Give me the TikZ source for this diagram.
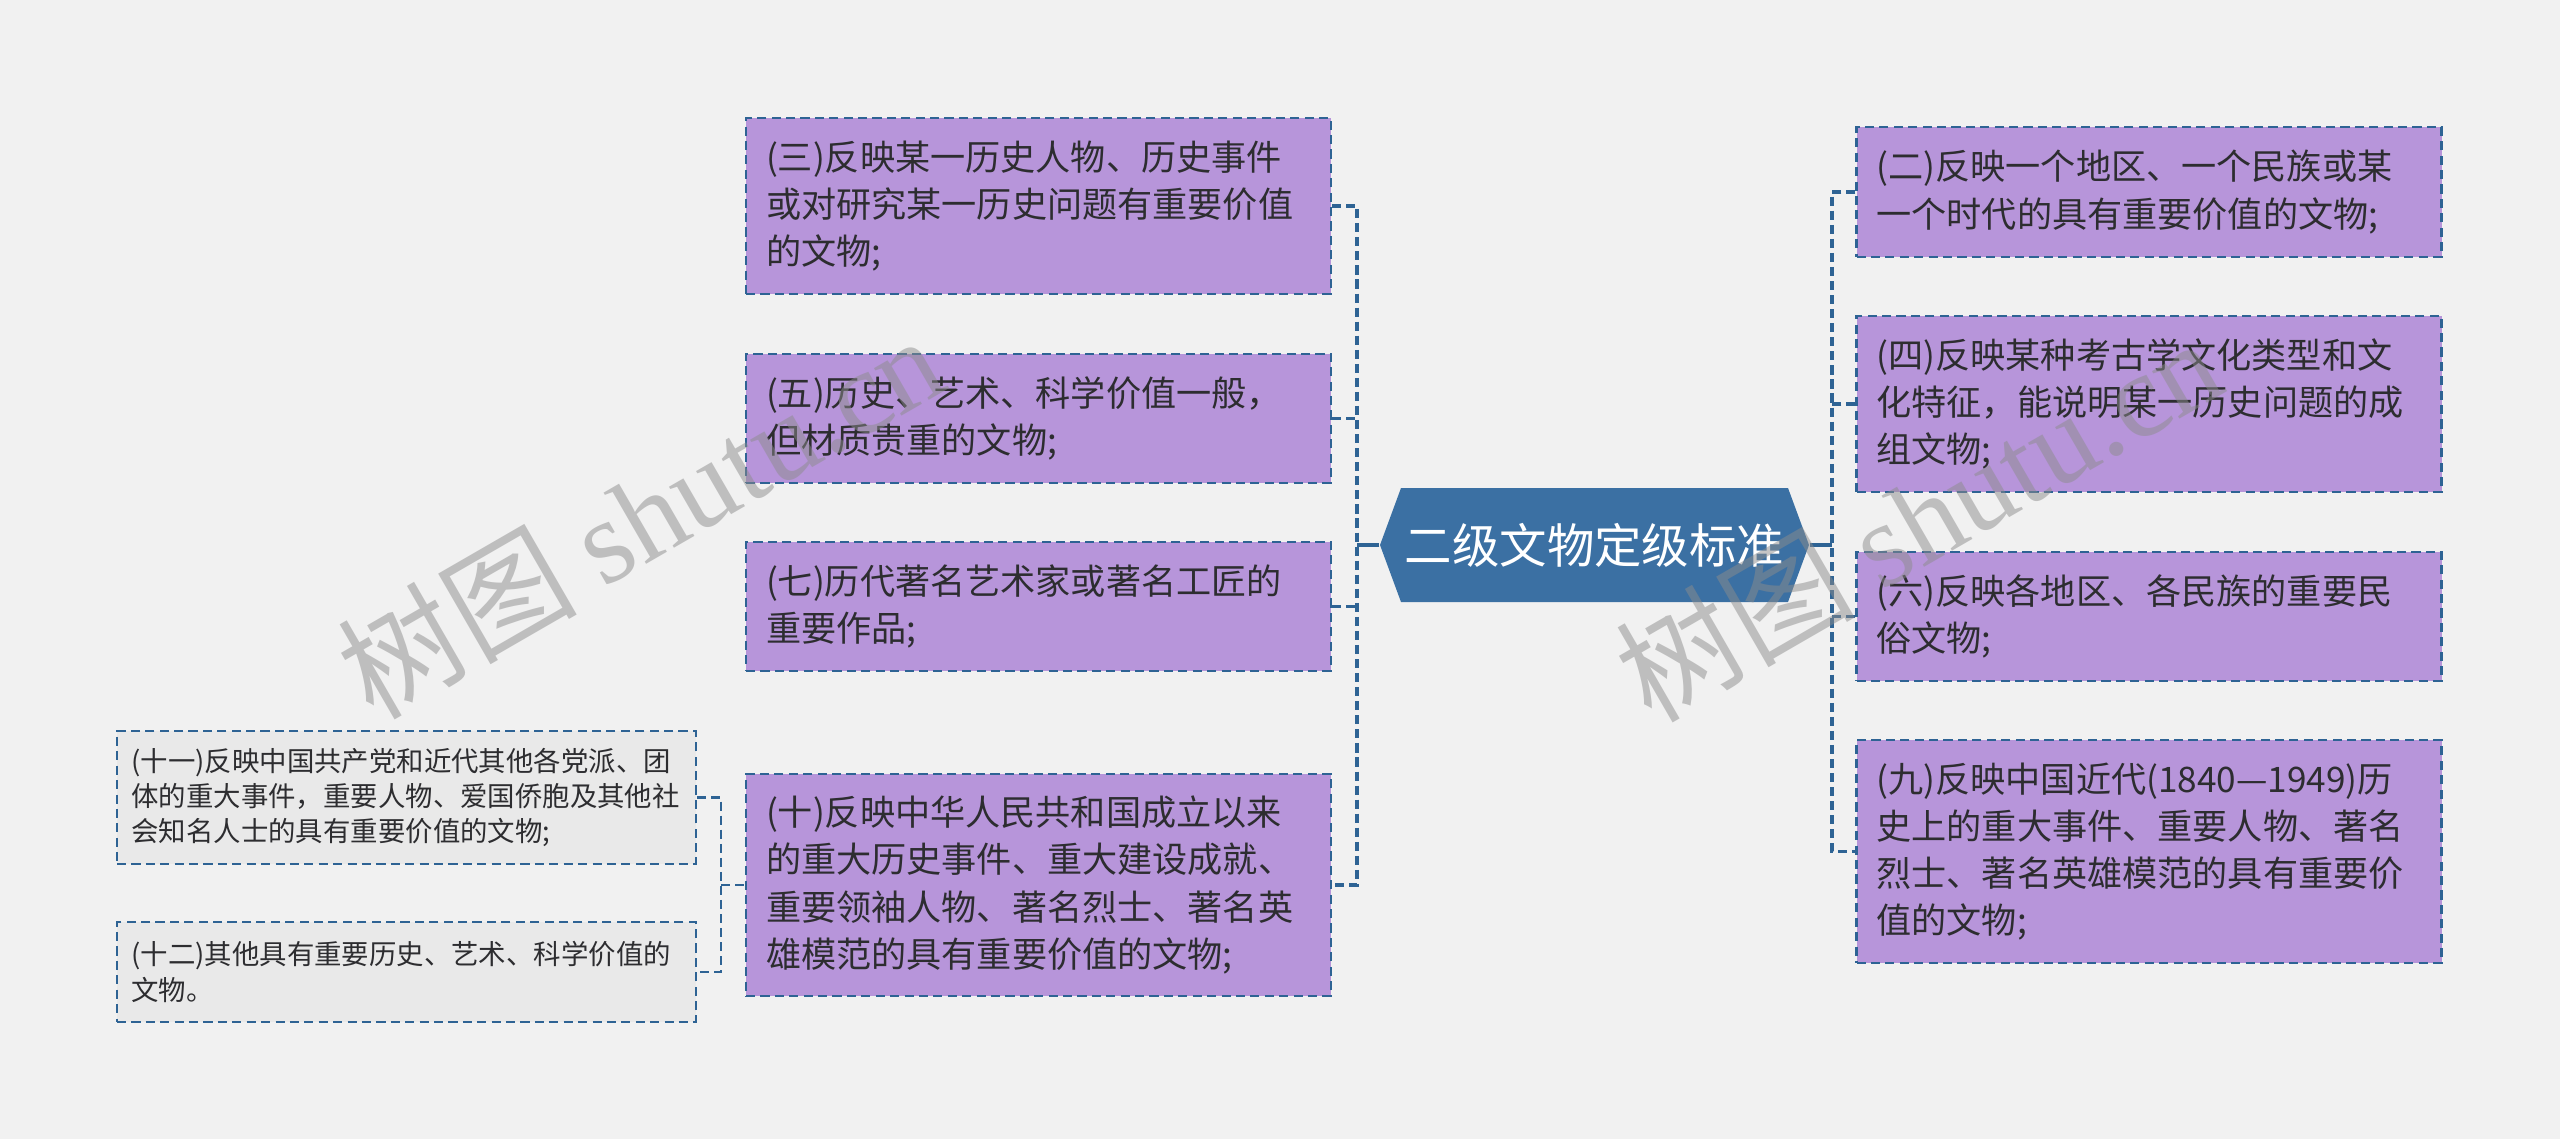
\documentclass[tikz,border=0pt]{standalone}
\usepackage{fontspec}
\newfontfamily\cjk{Noto Sans CJK SC}
\newfontfamily\marklatin{Liberation Serif}

\definecolor{wwbg}{RGB}{241,241,241}
\definecolor{wwblue}{RGB}{59,112,163}
\definecolor{wwline}{RGB}{46,99,148}
\definecolor{wwpurple}{RGB}{183,149,218}
\definecolor{wwgray}{RGB}{233,233,233}
\definecolor{wwtext}{RGB}{45,45,48}
\definecolor{wwmarkc}{RGB}{140,140,140}

\tikzset{
  wwroot/.style={minimum width=42.9mm, minimum height=11.4mm, inner sep=0pt, text=white,
    font=\cjk\fontsize{13.5}{16}\selectfont},
  wwbox/.style={draw=wwline, line width=.6pt, dash pattern=on 2.6pt off 1.5pt, fill=wwpurple,
    text=wwtext, minimum width=58.5mm, inner sep=0pt, text width=54.5mm, align=left,
    font=\cjk\fontsize{10}{13.4}\selectfont},
  wwsub/.style={draw=wwline, line width=.55pt, dash pattern=on 2.6pt off 1.5pt, fill=wwgray,
    text=wwtext, minimum width=57.9mm, inner sep=0pt, text width=55mm, align=left,
    font=\cjk\fontsize{7.8}{10}\selectfont},
  wwtie/.style={draw=wwline, line width=1pt},
  wwtrunk/.style={draw=wwline, line width=1pt, dash pattern=on 2.6pt off 1.4pt},
  wwtwig/.style={draw=wwline, line width=.6pt, dash pattern=on 2.6pt off 1.4pt},
  wwmark/.style={text=wwmarkc, text opacity=.5, rotate=30, inner sep=0pt,
    font=\cjk\fontsize{34}{34}\selectfont}
}

\begin{document}
\begin{tikzpicture}[x=0.1mm, y=-0.1mm]
\fill[wwbg] (0,0) rectangle (2560,1139);

% left column
\node[wwbox, minimum height=17.6mm] (n3) at (1038.5,206) {(三)反映某一历史人物、历史事件\\或对研究某一历史问题有重要价值\\的文物;};
\node[wwbox, minimum height=12.9mm] (n5) at (1038.5,418.5) {(五)历史、艺术、科学价值一般，\\但材质贵重的文物;};
\node[wwbox, minimum height=12.9mm] (n7) at (1038.5,606.5) {(七)历代著名艺术家或著名工匠的\\重要作品;};
\node[wwbox, minimum height=22.2mm] (n10) at (1038.5,885) {(十)反映中华人民共和国成立以来\\的重大历史事件、重大建设成就、\\重要领袖人物、著名烈士、著名英\\雄模范的具有重要价值的文物;};

% right column
\node[wwbox, minimum height=13.0mm] (n2) at (2149,192) {(二)反映一个地区、一个民族或某\\一个时代的具有重要价值的文物;};
\node[wwbox, minimum height=17.6mm] (n4) at (2149,404) {(四)反映某种考古学文化类型和文\\化特征，能说明某一历史问题的成\\组文物;};
\node[wwbox, minimum height=12.9mm] (n6) at (2149,616.5) {(六)反映各地区、各民族的重要民\\俗文物;};
\node[wwbox, minimum height=22.3mm] (n9) at (2149,851.5) {(九)反映中国近代(1840—1949)历\\史上的重大事件、重要人物、著名\\烈士、著名英雄模范的具有重要价\\值的文物;};

% under (十)
\node[wwsub, minimum height=13.3mm] (n11) at (406.5,797.5) {(十一)反映中国共产党和近代其他各党派、团\\体的重大事件，重要人物、爱国侨胞及其他社\\会知名人士的具有重要价值的文物;};
\node[wwsub, minimum height=10.0mm] (n12) at (406.5,972) {(十二)其他具有重要历史、艺术、科学价值的\\文物。};

% root
\fill[wwblue] (1380,545) -- (1401,488) -- (1788,488) -- (1809,545) -- (1788,602) -- (1401,602) -- cycle;
\node[wwroot] (root) at (1594.5,545) {二级文物定级标准};

\coordinate (lbus) at (1357,545);
\coordinate (rbus) at (1832,545);
\coordinate (sbus) at (721,885);

\draw[wwtie] (root.west) -- (lbus);
\draw[wwtie] (root.east) -- (rbus);

\draw[wwtrunk] (n3.east) -- (n3.east -| lbus) -- (n10.east -| lbus) -- (n10.east);
\draw[wwtrunk] (n5.east) -- (n5.east -| lbus);
\draw[wwtrunk] (n7.east) -- (n7.east -| lbus);

\draw[wwtrunk] (n2.west) -- (n2.west -| rbus) -- (n9.west -| rbus) -- (n9.west);
\draw[wwtrunk] (n4.west) -- (n4.west -| rbus);
\draw[wwtrunk] (n6.west) -- (n6.west -| rbus);

\draw[wwtwig] (n11.east) -- (n11.east -| sbus) -- (n12.east -| sbus) -- (n12.east);
\draw[wwtwig] (sbus) -- (n10.west);

% watermarks
\node[wwmark] (mark1) at (640,515) {树图 {\marklatin shutu.cn}};
\node[wwmark] (mark2) at (1918,518) {树图 {\marklatin shutu.cn}};
\end{tikzpicture}
\end{document}
